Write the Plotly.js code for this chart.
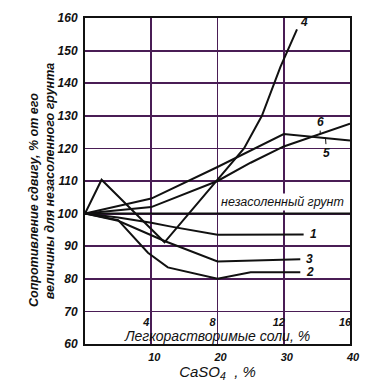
<!DOCTYPE html>
<html><head><meta charset="utf-8">
<script src="https://cdn.plot.ly/plotly-3.0.1.min.js"></script>
<style>html,body{margin:0;padding:0;background:#fff;}#c{width:369px;height:392px;}</style>
</head><body><div id="c"></div>
<script>
// CaSO4, % (bottom axis) and shear resistance, % of non-saline soil
const line1X = [0, 5, 10, 13, 20, 33];
const line1Y = [100, 98.8, 97.2, 96, 93.5, 93.6];
const line2X = [0, 5, 9.5, 12.5, 20, 25, 32.5];
const line2Y = [100, 98, 88, 83.5, 80, 82, 82];
const line3X = [0, 5, 12, 20, 32.5];
const line3Y = [100, 97.8, 91.6, 85.3, 86];
const line4X = [0, 2.5, 12, 20, 24, 26.7, 29.5, 32];
const line4Y = [100, 110.4, 91.2, 110.4, 120, 130, 145, 156.5];
const line5X = [0, 10, 20, 30, 40];
const line5Y = [100, 104.6, 114.3, 124.4, 122.4];
const line6X = [0, 10, 20, 25, 30, 40];
const line6Y = [100, 102, 110, 115.6, 120.6, 127.6];
const baseX = [0, 40];
const baseY = [100, 100];
const lineNames = ['1', '2', '3', '4', '5', '6'];
const baseLabel = 'незасоленный грунт';
const xTicks = [10, 20, 30, 40];
const yTicks = [60, 70, 80, 90, 100, 110, 120, 130, 140, 150, 160];
const saltTicks = [4, 8, 12, 16];
const saltRange = [0, 16];
const xTitle = 'CaSO<sub>4</sub>  , %';
const saltTitle = 'Легкорастворимые соли, %';
const yTitleLines = ['Сопротивление сдвигу, % от его', 'величины для незасоленного грунта'];

const FONT = 'Liberation Sans Narrow, Liberation Sans, Arial, sans-serif';
const FONTW = 'Liberation Sans, Arial, sans-serif';
const GRID = '#4a1d55';
const lineStyle = {color: '#111', width: 2};

const series = [[line1X, line1Y], [line2X, line2Y], [line3X, line3Y], [line4X, line4Y], [line5X, line5Y], [line6X, line6Y]];
const traces = series.map((s, i) => ({
  x: s[0], y: s[1], mode: 'lines', line: lineStyle, name: lineNames[i],
  showlegend: false, hoverinfo: 'skip'
}));
traces.push({x: baseX, y: baseY, mode: 'lines', line: lineStyle, showlegend: false, hoverinfo: 'skip'});
traces.push({x: saltRange, y: [60, 60], xaxis: 'x2', yaxis: 'y', mode: 'lines', opacity: 0, showlegend: false, hoverinfo: 'skip'});

const lblFont = {family: FONT, size: 12, color: '#111', style: 'italic', weight: 'bold'};
const annotations = [
  {x: line1X[line1X.length-1], y: line1Y[line1Y.length-1], text: lineNames[0], showarrow: false, xanchor: 'left', xshift: 4, font: lblFont},
  {x: line2X[line2X.length-1], y: line2Y[line2Y.length-1], text: lineNames[1], showarrow: false, xanchor: 'left', xshift: 4, font: lblFont},
  {x: line3X[line3X.length-1], y: line3Y[line3Y.length-1], text: lineNames[2], showarrow: false, xanchor: 'left', xshift: 4, font: lblFont},
  {x: line4X[line4X.length-1], y: line4Y[line4Y.length-1], text: lineNames[3], showarrow: false, xanchor: 'left', yanchor: 'bottom', xshift: 1, yshift: -2, font: lblFont},
  {x: 36.3, y: 123.3, text: lineNames[4], showarrow: true, arrowhead: 0, arrowwidth: 1, arrowcolor: '#111', ax: 1, ay: 15, standoff: 0, font: lblFont},
  {x: 35.5, y: 124.4, text: lineNames[5], showarrow: true, arrowhead: 0, arrowwidth: 1, arrowcolor: '#111', ax: 0, ay: -12, standoff: 0, font: lblFont},
  {x: 40, y: 100, text: baseLabel, showarrow: false, xanchor: 'right', yanchor: 'bottom', xshift: -4, yshift: 3,
   bgcolor: '#fff', font: {family: FONT, size: 12.5, color: '#111', style: 'italic'}}
];

const pad = '\u00a0'.repeat(11);
const layout = {
  width: 369, height: 392,
  margin: {l: 85, r: 19, t: 18, b: 48},
  paper_bgcolor: '#fff', plot_bgcolor: '#fff',
  showlegend: false,
  xaxis: {
    range: [0, 40], tickvals: xTicks, ticktext: xTicks.map(String),
    showgrid: true, gridcolor: GRID, gridwidth: 1.8, zeroline: false,
    showline: true, mirror: true, linecolor: '#111', linewidth: 2, ticks: '',
    ticklabelshift: 3, ticklabelstandoff: 2,
    tickfont: {family: FONT, size: 11, color: '#111', style: 'italic', weight: 'bold'},
    title: {text: xTitle, standoff: 4, font: {family: FONTW, size: 15, color: '#111', style: 'italic'}},
    automargin: false
  },
  xaxis2: {
    overlaying: 'x', anchor: 'free', position: 0.095, side: 'bottom',
    range: saltRange, tickvals: saltTicks, ticktext: saltTicks.map(String),
    showgrid: false, zeroline: false, showline: false, ticks: '',
    ticklabelshift: -5, ticklabelstandoff: 1,
    tickfont: {family: FONT, size: 11, color: '#111', style: 'italic', weight: 'bold'},
    title: {text: saltTitle, standoff: 0, font: {family: FONT, size: 14, color: '#111', style: 'italic'}},
    automargin: false
  },
  yaxis: {
    range: [60, 160], tickvals: yTicks, ticktext: yTicks.map(String),
    showgrid: true, gridcolor: GRID, gridwidth: 1.8, zeroline: false,
    showline: true, mirror: true, linecolor: '#111', linewidth: 2, ticks: '',
    ticklabelstandoff: 3,
    tickfont: {family: FONT, size: 12, color: '#111', style: 'italic', weight: 'bold'},
    title: {text: yTitleLines.map(t => t + pad).join('<br>'), standoff: 0,
            font: {family: FONTW, size: 12.5, color: '#111', style: 'italic', weight: 'bold'}},
    automargin: false
  },
  annotations: annotations
};
Plotly.newPlot('c', traces, layout, {staticPlot: true, displayModeBar: false});
</script></body></html>
